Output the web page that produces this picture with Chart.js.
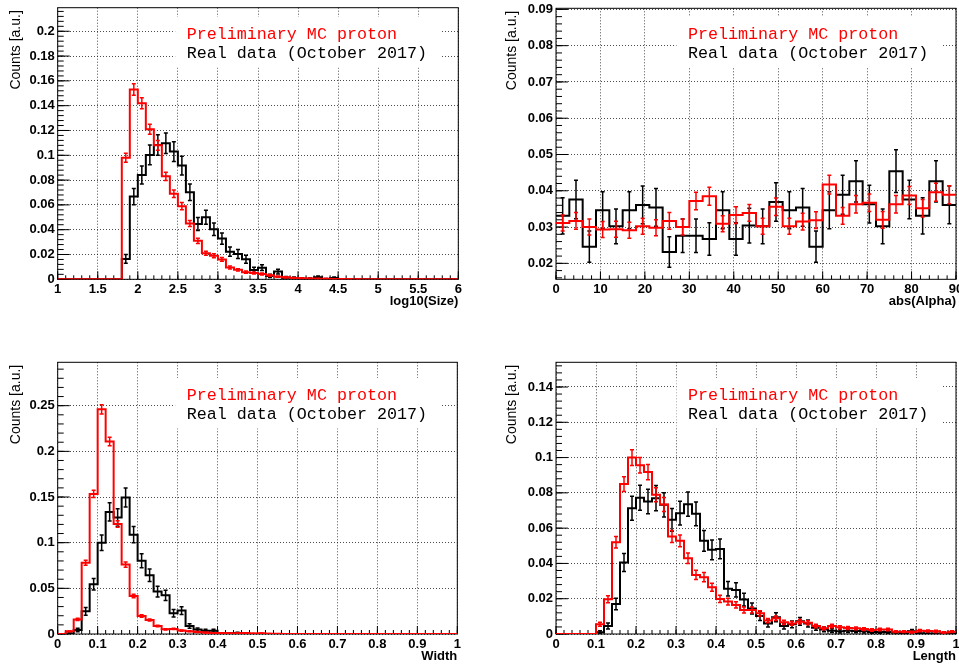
<!DOCTYPE html>
<html>
<head>
<meta charset="utf-8">
<title>MC proton vs real data</title>
<script src="https://cdn.jsdelivr.net/npm/chart.js@4.4.1/dist/chart.umd.min.js"></script>
<style>
  html, body { margin: 0; padding: 0; background: #fff; }
  body { position: relative; width: 959px; height: 667px; overflow: hidden; }
  canvas { position: absolute; }
</style>
</head>
<body>
<canvas id="sizeChart"></canvas>
<canvas id="alphaChart"></canvas>
<canvas id="widthChart"></canvas>
<canvas id="lengthChart"></canvas>
<script>
/* ── Data ── */
const legendLabels = ['Preliminary MC proton', 'Real data (October 2017)'];
const yTitle = 'Counts [a.u.]';

// log10(Size): 50 bins on [1, 6]
const sizeRange = [1, 6];
const sizeMC = [0, 0, 0, 0, 0, 0, 0, 0,
  0.098, 0.153, 0.142, 0.121, 0.108, 0.083, 0.069, 0.059, 0.045, 0.031,
  0.021, 0.019, 0.016, 0.0095, 0.0076, 0.0057, 0.005, 0.0043, 0.0032, 0.0021,
  0.0016, 0.0011, 0.0008, 0.0006, 0.0005, 0.0004, 0.0003, 0.0002, 0.0001, 0.0001,
  0, 0, 0, 0, 0, 0, 0, 0, 0, 0, 0, 0];
const sizeMCErr = [0, 0, 0, 0, 0, 0, 0, 0,
  0.0037, 0.0046, 0.0044, 0.0041, 0.0039, 0.0034, 0.0031, 0.0029, 0.0025, 0.0021,
  0.0017, 0.0016, 0.0015, 0.0012, 0.001, 0.0009, 0.0008, 0.0008, 0.0007, 0.0005,
  0.0005, 0.0004, 0.0003, 0.0003, 0.0003, 0.0002, 0.0002, 0.0002, 0.0001, 0.0001,
  0, 0, 0, 0, 0, 0, 0, 0, 0, 0, 0, 0];
const sizeData = [0, 0, 0, 0, 0, 0, 0, 0,
  0.0164, 0.0667, 0.0841, 0.1003, 0.1083, 0.1097, 0.103, 0.0917, 0.0702, 0.0446,
  0.05, 0.0403, 0.0328, 0.0223, 0.0204, 0.0161, 0.0075, 0.0094, 0.0027, 0.0062,
  0.0013, 0.001, 0.0005, 0.0005, 0.0016, 0.0003, 0.001, 0, 0, 0,
  0, 0, 0, 0, 0, 0, 0, 0, 0, 0, 0, 0];
const sizeDataErr = [0, 0, 0, 0, 0, 0, 0, 0,
  0.0035, 0.0065, 0.0073, 0.008, 0.0082, 0.0083, 0.008, 0.0076, 0.0066, 0.0053,
  0.0056, 0.005, 0.0045, 0.0037, 0.0036, 0.0032, 0.0022, 0.0024, 0.0013, 0.002,
  0.0009, 0.0008, 0.0006, 0.0006, 0.001, 0.0004, 0.0008, 0, 0, 0,
  0, 0, 0, 0, 0, 0, 0, 0, 0, 0, 0, 0];
const sizeTicksX = [1, 1.5, 2, 2.5, 3, 3.5, 4, 4.5, 5, 5.5, 6];
const sizeTicksY = [0, 0.02, 0.04, 0.06, 0.08, 0.1, 0.12, 0.14, 0.16, 0.18, 0.2];

// abs(Alpha): 30 bins on [0, 90]
const alphaRange = [0, 90];
const alphaMC = [0.0311, 0.0317, 0.0300, 0.0293, 0.0294, 0.0291, 0.0302, 0.0298, 0.0317, 0.0300,
  0.0372, 0.0385, 0.0309, 0.0333, 0.0339, 0.0302, 0.0356, 0.0302, 0.0315, 0.0319,
  0.0417, 0.0331, 0.0363, 0.0367, 0.0320, 0.0363, 0.0387, 0.0352, 0.0396, 0.0389];
const alphaMCErr = [0.0022, 0.0023, 0.0022, 0.0022, 0.0022, 0.0022, 0.0022, 0.0022, 0.0023, 0.0022,
  0.0024, 0.0025, 0.0022, 0.0023, 0.0023, 0.0022, 0.0024, 0.0022, 0.0023, 0.0023,
  0.0026, 0.0023, 0.0024, 0.0024, 0.0023, 0.0024, 0.0025, 0.0024, 0.0025, 0.0025];
const alphaData = [0.0331, 0.0376, 0.0246, 0.0346, 0.0302, 0.0346, 0.0361, 0.0354, 0.0231, 0.0276,
  0.0276, 0.0267, 0.0346, 0.0267, 0.0304, 0.0302, 0.0369, 0.0346, 0.0354, 0.0246,
  0.0346, 0.0389, 0.0426, 0.0363, 0.0302, 0.0454, 0.0376, 0.0331, 0.0426, 0.0361];
const alphaDataErr = [0.0050, 0.0053, 0.0043, 0.0051, 0.0048, 0.0051, 0.0052, 0.0052, 0.0042, 0.0046,
  0.0046, 0.0045, 0.0051, 0.0045, 0.0048, 0.0048, 0.0053, 0.0051, 0.0052, 0.0043,
  0.0051, 0.0054, 0.0057, 0.0052, 0.0048, 0.0059, 0.0053, 0.0050, 0.0057, 0.0052];
const alphaTicksX = [0, 10, 20, 30, 40, 50, 60, 70, 80, 90];
const alphaTicksY = [0.02, 0.03, 0.04, 0.05, 0.06, 0.07, 0.08, 0.09];

// Width: 50 bins on [0, 1]
const widthRange = [0, 1];
const widthMC = [0, 0.0029, 0.016, 0.078, 0.1534, 0.246, 0.2107, 0.1205, 0.076, 0.0416,
  0.0197, 0.0153, 0.0088, 0.0051, 0.0055, 0.0037, 0.003, 0.0022, 0.0016, 0.0012,
  0.001, 0.0008, 0.0007, 0.0012, 0.0006, 0.0008, 0.0003, 0.0002, 0, 0,
  0, 0, 0, 0, 0, 0, 0, 0, 0, 0, 0, 0, 0, 0, 0, 0, 0, 0, 0, 0];
const widthMCErr = [0, 0.0005, 0.0013, 0.0028, 0.0039, 0.005, 0.0046, 0.0035, 0.0028, 0.002,
  0.0014, 0.0012, 0.0009, 0.0007, 0.0007, 0.0006, 0.0005, 0.0005, 0.0004, 0.0003,
  0.0003, 0.0003, 0.0003, 0.0003, 0.0002, 0.0003, 0.0002, 0.0001, 0, 0,
  0, 0, 0, 0, 0, 0, 0, 0, 0, 0, 0, 0, 0, 0, 0, 0, 0, 0, 0, 0];
const widthData = [0, 0.0005, 0.0044, 0.0248, 0.0544, 0.1, 0.1337, 0.1275, 0.1494, 0.1088,
  0.0803, 0.0643, 0.0464, 0.0424, 0.0226, 0.0256, 0.0088, 0.0048, 0.0035, 0.0035,
  0.0005, 0.0005, 0.001, 0.0003, 0, 0, 0, 0, 0, 0,
  0, 0, 0, 0, 0, 0, 0, 0, 0, 0, 0, 0, 0, 0, 0, 0, 0, 0, 0, 0];
const widthDataErr = [0, 0.0006, 0.0018, 0.0043, 0.0063, 0.0085, 0.0099, 0.0096, 0.0104, 0.0089,
  0.0077, 0.0068, 0.0058, 0.0056, 0.0041, 0.0043, 0.0025, 0.0019, 0.0016, 0.0016,
  0.0006, 0.0006, 0.0009, 0.0005, 0, 0, 0, 0, 0, 0,
  0, 0, 0, 0, 0, 0, 0, 0, 0, 0, 0, 0, 0, 0, 0, 0, 0, 0, 0, 0];
const widthTicksX = [0, 0.1, 0.2, 0.3, 0.4, 0.5, 0.6, 0.7, 0.8, 0.9, 1];
const widthTicksY = [0, 0.05, 0.1, 0.15, 0.2, 0.25];

// Length: 50 bins on [0, 1]
const lengthRange = [0, 1];
const lengthMC = [0, 0, 0, 0, 0,
  0.0055, 0.0197, 0.052, 0.085, 0.1, 0.0957, 0.0918, 0.0789, 0.0734, 0.0552,
  0.0528, 0.0429, 0.0335, 0.0322, 0.0265, 0.0199, 0.0184, 0.0165, 0.0136, 0.0136,
  0.0117, 0.0076, 0.0089, 0.0066, 0.006, 0.007, 0.0064, 0.0045, 0.0032, 0.0045,
  0.0038, 0.0034, 0.0032, 0.0028, 0.0023, 0.0026, 0.0026, 0.0013, 0.0013, 0.0011,
  0.0019, 0.0017, 0.0015, 0.0009, 0.0013];
const lengthMCErr = [0, 0, 0, 0, 0,
  0.0011, 0.002, 0.0033, 0.0042, 0.0045, 0.0044, 0.0043, 0.004, 0.0039, 0.0034,
  0.0033, 0.003, 0.0026, 0.0026, 0.0023, 0.002, 0.0019, 0.0018, 0.0017, 0.0017,
  0.0015, 0.0012, 0.0013, 0.0012, 0.0011, 0.0012, 0.0011, 0.001, 0.0008, 0.001,
  0.0009, 0.0008, 0.0008, 0.0008, 0.0007, 0.0007, 0.0007, 0.0005, 0.0005, 0.0005,
  0.0006, 0.0006, 0.0006, 0.0004, 0.0005];
const lengthData = [0, 0, 0, 0, 0,
  0.001, 0.0045, 0.017, 0.0405, 0.0713, 0.0772, 0.0751, 0.077, 0.0732, 0.0647,
  0.0685, 0.0736, 0.0681, 0.0528, 0.0477, 0.0482, 0.0257, 0.025, 0.0195, 0.0145,
  0.0102, 0.006, 0.0095, 0.0045, 0.0055, 0.0072, 0.006, 0.0036, 0.0026, 0.0019,
  0.0015, 0.0019, 0.0017, 0.0015, 0.0011, 0.0011, 0.0011, 0.0008, 0.0004, 0.0015,
  0.0004, 0.0003, 0.0003, 0.0003, 0.0003];
const lengthDataErr = [0, 0, 0, 0, 0,
  0.0008, 0.0017, 0.0033, 0.0051, 0.0068, 0.0071, 0.007, 0.0071, 0.0069, 0.0065,
  0.0067, 0.0069, 0.0067, 0.0059, 0.0056, 0.0056, 0.0041, 0.004, 0.0036, 0.0031,
  0.0026, 0.002, 0.0025, 0.0017, 0.0019, 0.0022, 0.002, 0.0015, 0.0013, 0.0011,
  0.001, 0.0011, 0.001, 0.001, 0.0008, 0.0008, 0.0008, 0.0007, 0.0005, 0.001,
  0.0005, 0.0004, 0.0004, 0.0004, 0.0004];
const lengthTicksX = [0, 0.1, 0.2, 0.3, 0.4, 0.5, 0.6, 0.7, 0.8, 0.9, 1];
const lengthTicksY = [0, 0.02, 0.04, 0.06, 0.08, 0.1, 0.12, 0.14];

/* ── Styling ── */
const MC_COLOR = '#ff0000';
const DATA_COLOR = '#000000';
const SANS = '"Liberation Sans", Arial, Helvetica, sans-serif';
const MONO = '"Liberation Mono", "Courier New", monospace';
Chart.defaults.font.family = SANS;
Chart.defaults.color = '#000';

function fmtTick(v) {
    return String(parseFloat(v.toFixed(4)));
}

// minor tick positions between axis limits
function stepsBetween(min, max, step) {
    const out = [];
    for (let k = Math.ceil(min / step - 1e-6); k * step <= max + 1e-9; k++) out.push(k * step);
    return out;
}

// one point per left bin edge plus the closing right edge -> drawn as a step line
function histPoints(values, range) {
    const w = (range[1] - range[0]) / values.length;
    const pts = values.map((v, i) => ({ x: range[0] + i * w, y: v }));
    pts.push({ x: range[1], y: values[values.length - 1] });
    return pts;
}

/* ROOT-like frame, inward ticks, legend pad, error bars and axis titles */
function rootPlugin(spec, lay) {
    return {
        id: 'rootStyle',
        beforeDatasetsDraw(chart) {
            const { ctx, chartArea: a, scales: { x, y } } = chart;
            ctx.save();

            // legend pad (white, hides the grid)
            const lx = a.left + lay.legendLeft;
            const ly = a.top + lay.legendTop;
            ctx.fillStyle = '#fff';
            ctx.fillRect(lx, ly, 266.5, 50.5);
            ctx.font = '16.7px ' + MONO;
            ctx.textAlign = 'left';
            ctx.textBaseline = 'alphabetic';
            ctx.fillStyle = MC_COLOR;
            ctx.fillText(legendLabels[0], lx + 11.5, ly + 22);
            ctx.fillStyle = DATA_COLOR;
            ctx.fillText(legendLabels[1], lx + 11.5, ly + 41);

            // frame
            ctx.strokeStyle = '#000';
            ctx.lineWidth = 1;
            ctx.strokeRect(a.left, a.top, a.right - a.left, a.bottom - a.top);

            // ticks pointing into the frame
            ctx.beginPath();
            spec.xTicks.forEach(v => {
                const px = x.getPixelForValue(v);
                ctx.moveTo(px, a.bottom); ctx.lineTo(px, a.bottom - 8);
            });
            stepsBetween(spec.range[0], spec.range[1], spec.xMinor).forEach(v => {
                const px = x.getPixelForValue(v);
                ctx.moveTo(px, a.bottom); ctx.lineTo(px, a.bottom - 4);
            });
            spec.yTicks.forEach(v => {
                const py = y.getPixelForValue(v);
                ctx.moveTo(a.left, py); ctx.lineTo(a.left + 12, py);
            });
            stepsBetween(spec.yRange[0], spec.yRange[1], spec.yMinor).forEach(v => {
                const py = y.getPixelForValue(v);
                ctx.moveTo(a.left, py); ctx.lineTo(a.left + 6, py);
            });
            ctx.stroke();
            ctx.restore();
        },
        afterDatasetDraw(chart, args) {
            const ds = chart.data.datasets[args.index];
            const { ctx, chartArea: a, scales: { x, y } } = chart;
            const w = (spec.range[1] - spec.range[0]) / ds.binValues.length;
            ctx.save();
            ctx.beginPath();
            ctx.rect(a.left, a.top, a.right - a.left, a.bottom - a.top);
            ctx.clip();
            ctx.strokeStyle = ds.borderColor;
            ctx.lineWidth = 1.5;
            ctx.beginPath();
            ds.binValues.forEach((v, i) => {
                const e = ds.binErrors[i];
                if (!e) return;
                const cx = x.getPixelForValue(spec.range[0] + (i + 0.5) * w);
                const y1 = y.getPixelForValue(v - e);
                const y2 = y.getPixelForValue(v + e);
                ctx.moveTo(cx, y1); ctx.lineTo(cx, y2);
                ctx.moveTo(cx - 2, y1); ctx.lineTo(cx + 2, y1);
                ctx.moveTo(cx - 2, y2); ctx.lineTo(cx + 2, y2);
            });
            ctx.stroke();
            ctx.restore();
        },
        afterDraw(chart) {
            const { ctx, chartArea: a } = chart;
            ctx.save();
            ctx.fillStyle = '#000';
            // x title, right aligned under the axis
            ctx.font = 'bold 13px ' + SANS;
            ctx.textAlign = 'right';
            ctx.textBaseline = 'alphabetic';
            ctx.fillText(spec.xTitle, a.right, a.bottom + 25.7);
            // y title, rotated, aligned to the top of the axis
            ctx.translate(lay.yTitleX, a.top + 2.5);
            ctx.rotate(-Math.PI / 2);
            ctx.font = '14px ' + SANS;
            ctx.textAlign = 'right';
            ctx.textBaseline = 'middle';
            ctx.fillText(yTitle, 0, 0);
            ctx.restore();
        }
    };
}

function makeHist(id, lay, spec) {
    const canvas = document.getElementById(id);
    canvas.width = lay.w;
    canvas.height = lay.h;
    canvas.style.left = lay.left + 'px';
    canvas.style.top = lay.top + 'px';
    canvas.style.width = lay.w + 'px';
    canvas.style.height = lay.h + 'px';
    const [aL, aT, aR, aB] = lay.area;

    const grid = { color: 'rgba(0,0,0,0.7)', lineWidth: 1, drawTicks: false };
    const border = { display: false, dash: [1, 2] };
    const tickFont = { family: SANS, size: 13, weight: 'bold' };

    new Chart(canvas, {
        type: 'line',
        data: {
            datasets: [{
                label: legendLabels[0],
                data: histPoints(spec.mc, spec.range),
                binValues: spec.mc,
                binErrors: spec.mcErr,
                borderColor: MC_COLOR,
                borderWidth: 2,
                stepped: true,
                pointRadius: 0,
                fill: false
            }, {
                label: legendLabels[1],
                data: histPoints(spec.data, spec.range),
                binValues: spec.data,
                binErrors: spec.dataErr,
                borderColor: DATA_COLOR,
                borderWidth: 2,
                stepped: true,
                pointRadius: 0,
                fill: false
            }]
        },
        options: {
            responsive: false,
            animation: false,
            devicePixelRatio: 1,
            events: [],
            layout: { padding: { left: 0, top: aT, right: lay.w - aR, bottom: 0 } },
            plugins: {
                legend: { display: false },
                tooltip: { enabled: false }
            },
            scales: {
                x: {
                    type: 'linear',
                    min: spec.range[0],
                    max: spec.range[1],
                    afterBuildTicks: s => { s.ticks = spec.xTicks.map(v => ({ value: v })); },
                    afterFit: s => { s.height = lay.h - aB; s.paddingLeft = 0; s.paddingRight = 0; },
                    ticks: {
                        autoSkip: false, maxRotation: 0, minRotation: 0,
                        padding: 2.5, color: '#000', font: tickFont,
                        callback: v => fmtTick(v)
                    },
                    grid: grid,
                    border: border
                },
                y: {
                    type: 'linear',
                    min: spec.yRange[0],
                    max: spec.yRange[1],
                    afterBuildTicks: s => { s.ticks = spec.yTicks.map(v => ({ value: v })); },
                    afterFit: s => { s.width = aL; s.paddingTop = 0; s.paddingBottom = 0; },
                    ticks: {
                        autoSkip: false, padding: 3, color: '#000', font: tickFont,
                        callback: v => fmtTick(v)
                    },
                    grid: grid,
                    border: border
                }
            }
        },
        plugins: [rootPlugin(spec, lay)]
    });
}

/* ── Pad layout (canvas position, plot frame inside it) ── */
const layoutSize   = { left: 0,   top: 0,   w: 480, h: 333, area: [57.7, 7.7, 458.3, 279.3], legendLeft: 117.5, legendTop: 9.3, yTitleX: 15.7 };
const layoutAlpha  = { left: 480, top: 0,   w: 500, h: 333, area: [76, 8.3, 476, 279.3],     legendLeft: 120.5, legendTop: 8.7, yTitleX: 31.7 };
const layoutWidth  = { left: 0,   top: 333, w: 480, h: 334, area: [57.7, 29.3, 457.3, 301],  legendLeft: 117.5, legendTop: 15.7, yTitleX: 15.7 };
const layoutLength = { left: 480, top: 333, w: 500, h: 334, area: [76, 29.3, 476, 301],      legendLeft: 120.5, legendTop: 15.7, yTitleX: 31.7 };

document.addEventListener('DOMContentLoaded', () => {
    makeHist('sizeChart', layoutSize, {
        range: sizeRange, yRange: [0, 0.219], xMinor: 0.1, yMinor: 0.004,
        xTicks: sizeTicksX, yTicks: sizeTicksY, xTitle: 'log10(Size)',
        mc: sizeMC, mcErr: sizeMCErr, data: sizeData, dataErr: sizeDataErr
    });
    makeHist('alphaChart', layoutAlpha, {
        range: alphaRange, yRange: [0.0156, 0.0903], xMinor: 2, yMinor: 0.002,
        xTicks: alphaTicksX, yTicks: alphaTicksY, xTitle: 'abs(Alpha)',
        mc: alphaMC, mcErr: alphaMCErr, data: alphaData, dataErr: alphaDataErr
    });
    makeHist('widthChart', layoutWidth, {
        range: widthRange, yRange: [0, 0.2975], xMinor: 0.02, yMinor: 0.01,
        xTicks: widthTicksX, yTicks: widthTicksY, xTitle: 'Width',
        mc: widthMC, mcErr: widthMCErr, data: widthData, dataErr: widthDataErr
    });
    makeHist('lengthChart', layoutLength, {
        range: lengthRange, yRange: [0, 0.154], xMinor: 0.02, yMinor: 0.004,
        xTicks: lengthTicksX, yTicks: lengthTicksY, xTitle: 'Length',
        mc: lengthMC, mcErr: lengthMCErr, data: lengthData, dataErr: lengthDataErr
    });
});
</script>
</body>
</html>
